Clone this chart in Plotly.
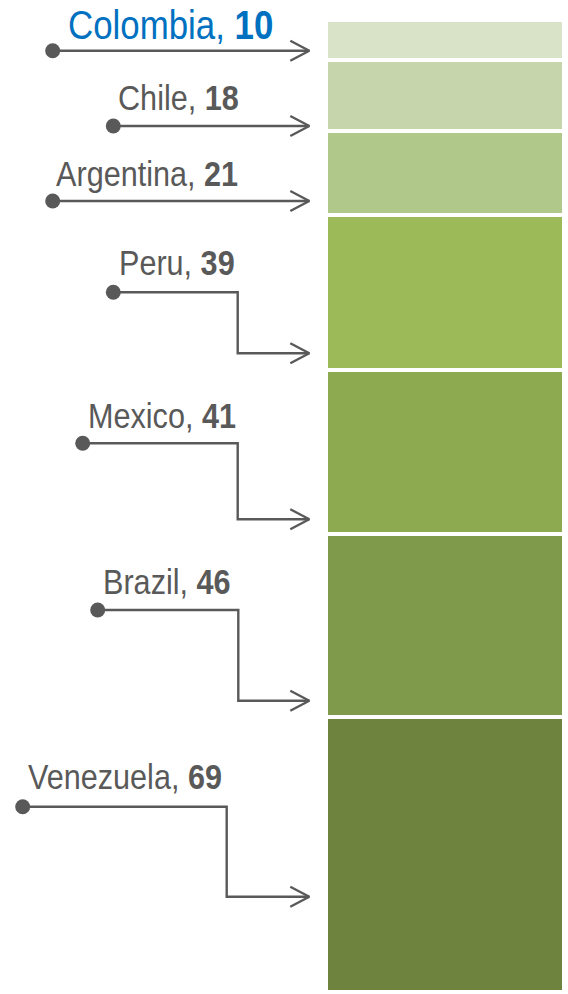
import plotly.graph_objects as go

# Countries, top to bottom of the stacked column
countries = ["Colombia", "Chile", "Argentina", "Peru", "Mexico", "Brazil", "Venezuela"]
values = [10, 18, 21, 39, 41, 46, 69]
fill_colors = ["#D8E3C7", "#C6D5AC", "#B1C88B", "#9CBA58", "#8EAA51", "#7F9A4A", "#6E843E"]
label_colors = ["#0070C0", "#595959", "#595959", "#595959", "#595959", "#595959", "#595959"]
label_sizes = [41, 36, 36, 36, 36, 36, 36]

# Callout layout in pixels: dot (x, y), elbow x (None = straight), arrow y, label left x, label baseline
dot_x = [52.7, 113.3, 52.7, 113.3, 82.7, 97.7, 22.7]
dot_y = [50.7, 126.0, 201.0, 292.3, 443.3, 610.0, 806.7]
elbow_x = [None, None, None, 237.7, 237.7, 238.3, 226.7]
arrow_y = [50.7, 126.0, 201.0, 353.3, 519.3, 700.7, 896.7]
label_x = [66.0, 115.5, 54.0, 116.5, 85.5, 100.5, 25.5]
label_base = [40.7, 111.0, 187.3, 276.7, 429.3, 595.0, 790.7]

W, H = 568, 994
COLUMN_X, COLUMN_W = 446, 237.6
ARROW_TIP = 309.3
INK = "#595959"
FONT = "Liberation Sans Narrow, Arial Narrow, Liberation Sans, Arial, sans-serif"
NARROW = 0.85  # horizontal squeeze giving the labels a narrow-face look

fig = go.Figure()

# Stacked column, one segment per country
for name, v, c in zip(countries, values, fill_colors):
    fig.add_trace(go.Bar(
        x=[COLUMN_X], y=[v], width=[COLUMN_W], name=name,
        marker=dict(color=c, line=dict(color="white", width=3.6)),
        hoverinfo="name+y", xaxis="x", yaxis="y",
    ))

# Connectors with open arrowheads and start dots
for i in range(len(countries)):
    if elbow_x[i] is None:
        xs = [dot_x[i], ARROW_TIP]
        ys = [dot_y[i], arrow_y[i]]
    else:
        xs = [dot_x[i], elbow_x[i], elbow_x[i], ARROW_TIP]
        ys = [dot_y[i], dot_y[i], arrow_y[i], arrow_y[i]]
    fig.add_trace(go.Scatter(x=xs, y=ys, mode="lines", line=dict(color=INK, width=2.4),
                             hoverinfo="skip", xaxis="x", yaxis="y2"))
    fig.add_trace(go.Scatter(
        x=[ARROW_TIP - 19, ARROW_TIP, ARROW_TIP - 19],
        y=[arrow_y[i] - 10, arrow_y[i], arrow_y[i] + 10],
        mode="lines", line=dict(color=INK, width=2.4), hoverinfo="skip",
        xaxis="x", yaxis="y2"))
    fig.add_trace(go.Scatter(x=[dot_x[i]], y=[dot_y[i]], mode="markers",
                             marker=dict(color=INK, size=15), hoverinfo="skip",
                             xaxis="x", yaxis="y2"))
    desc = 0.212 * label_sizes[i] + 1
    fig.add_annotation(
        x=label_x[i], y=label_base[i] + desc, xref="x", yref="y2",
        xanchor="left", yanchor="bottom", showarrow=False,
        text=f"{countries[i]}, <b>{values[i]}</b>",
        font=dict(family=FONT, size=label_sizes[i], color=label_colors[i]),
    )

# Value axis: 0 at the top of the column, total at the bottom
px_top, px_bottom = 20.85, 992.5
total = sum(values)
per_px = total / (px_bottom - px_top)
y_range = [total + (H - px_bottom) * per_px, -px_top * per_px]

fig.update_layout(
    width=W, height=H, margin=dict(l=0, r=0, t=0, b=0),
    paper_bgcolor="white", plot_bgcolor="white",
    barmode="stack", bargap=0, showlegend=False,
    xaxis=dict(range=[0, W], visible=False, fixedrange=True),
    yaxis=dict(range=y_range, visible=False, fixedrange=True),
    yaxis2=dict(range=[H, 0], visible=False, overlaying="y", fixedrange=True),
)

squeeze_labels = (
    "document.querySelectorAll('.annotation-text').forEach(function (t) {"
    "  t.style.transformBox = 'fill-box';"
    "  t.style.transformOrigin = '0% 50%';"
    "  t.style.transform = 'scaleX(" + str(NARROW) + ")';"
    "});"
)

fig.write_html("out.html", config={"displayModeBar": False}, post_script=squeeze_labels)
